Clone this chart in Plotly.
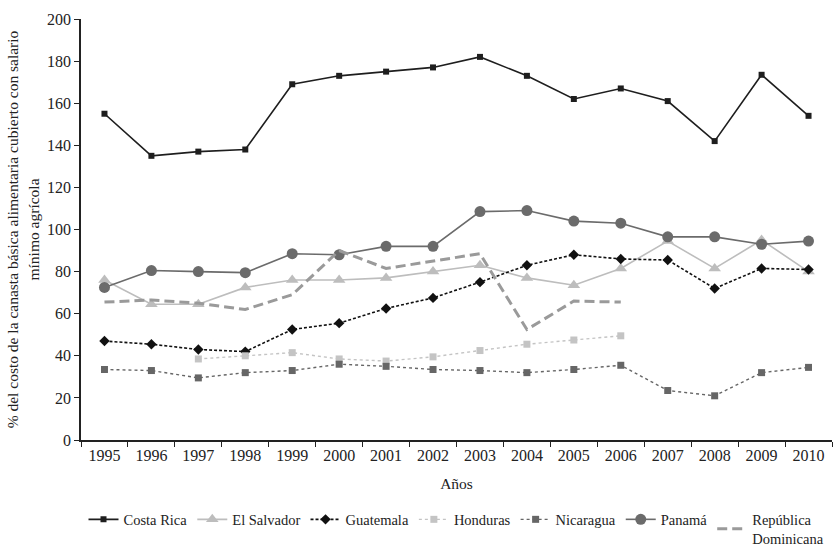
import plotly.graph_objects as go

years = [str(y) for y in range(1995, 2011)]

costa_rica = [155, 135, 137, 138, 169, 173, 175, 177, 182, 173, 162, 167, 161, 142, 173.5, 154]
el_salvador = [76, 64.5, 64.5, 72.5, 76, 76, 77, 80, 83, 77, 73.5, 81.5, 94.5, 81.5, 95, 80]
guatemala = [47, 45.5, 43, 42, 52.5, 55.5, 62.5, 67.5, 75, 83, 88, 86, 85.5, 72, 81.5, 81]
honduras = [None, None, 38.5, 40, 41.5, 38.5, 37.5, 39.5, 42.5, 45.5, 47.5, 49.5, None, None, None, None]
nicaragua = [33.5, 33, 29.5, 32, 33, 36, 35, 33.5, 33, 32, 33.5, 35.5, 23.5, 21, 32, 34.5]
panama = [72.5, 80.5, 80, 79.5, 88.5, 88, 92, 92, 108.5, 109, 104, 103, 96.5, 96.5, 93, 94.5]
rep_dominicana = [65.5, 66.5, 65, 62, 69, 90, 81.5, 85, 88.5, 52.5, 66, 65.5, None, None, None, None]

fig = go.Figure()

# name, values, line color, dash, width, marker symbol, marker size
series = [
    ("Costa Rica", costa_rica, "#1e1e1e", "solid", 1.6, "square", 6),
    ("El Salvador", el_salvador, "#bdbdbd", "solid", 1.6, "triangle-up", 11),
    ("Guatemala", guatemala, "#111111", "3px,2px", 1.6, "diamond", 8),
    ("Honduras", honduras, "#c4c4c4", "3px,3px", 1.4, "square", 7),
    ("Nicaragua", nicaragua, "#666666", "3px,3px", 1.4, "square", 7),
    ("Panamá", panama, "#6b6b6b", "solid", 1.6, "circle", 11),
    ("República<br>Dominicana", rep_dominicana, "#9a9a9a", "10px,5px", 3, None, 0),
]

for name, vals, color, dash, width, symbol, size in series:
    mode = "lines+markers" if symbol else "lines"
    fig.add_trace(go.Scatter(
        x=years, y=vals, name=name, mode=mode,
        line=dict(color=color, dash=dash, width=width),
        marker=dict(symbol=symbol or "circle", size=size, color=color),
        connectgaps=False,
    ))

fig.update_layout(
    width=834, height=546,
    margin=dict(l=81, r=2, t=19, b=106),
    paper_bgcolor="white", plot_bgcolor="white",
    font=dict(family="Liberation Serif", size=16, color="#222"),
    showlegend=True,
    legend=dict(
        orientation="h", x=0.5, xanchor="center",
        yref="container", y=0.078, yanchor="top",
        font=dict(size=14.5), itemwidth=30, tracegroupgap=0,
    ),
    xaxis=dict(
        type="category", range=[-0.5, 15.5], automargin=False,
        showline=True, linecolor="#222", linewidth=1.5,
        ticks="outside", ticklen=5, tickcolor="#222", tickson="boundaries",
        showgrid=False, zeroline=False,
        title=dict(text="Años", font=dict(size=15.5), standoff=15),
    ),
    yaxis=dict(
        range=[0, 200], dtick=20, automargin=False,
        showline=True, linecolor="#222", linewidth=1.5,
        ticks="outside", ticklen=5, tickcolor="#222",
        showgrid=False, zeroline=False,
        title=dict(text="% del costo de la canasta básica alimentaria cubierto con salario<br>mínimo agrícola",
                   font=dict(size=15.5), standoff=4),
    ),
)

# the page body has a default 8px margin; drop it so the figure sits at 0,0
fig.write_html("out.html", config={"displayModeBar": False},
               post_script="document.body.style.margin='0';")
